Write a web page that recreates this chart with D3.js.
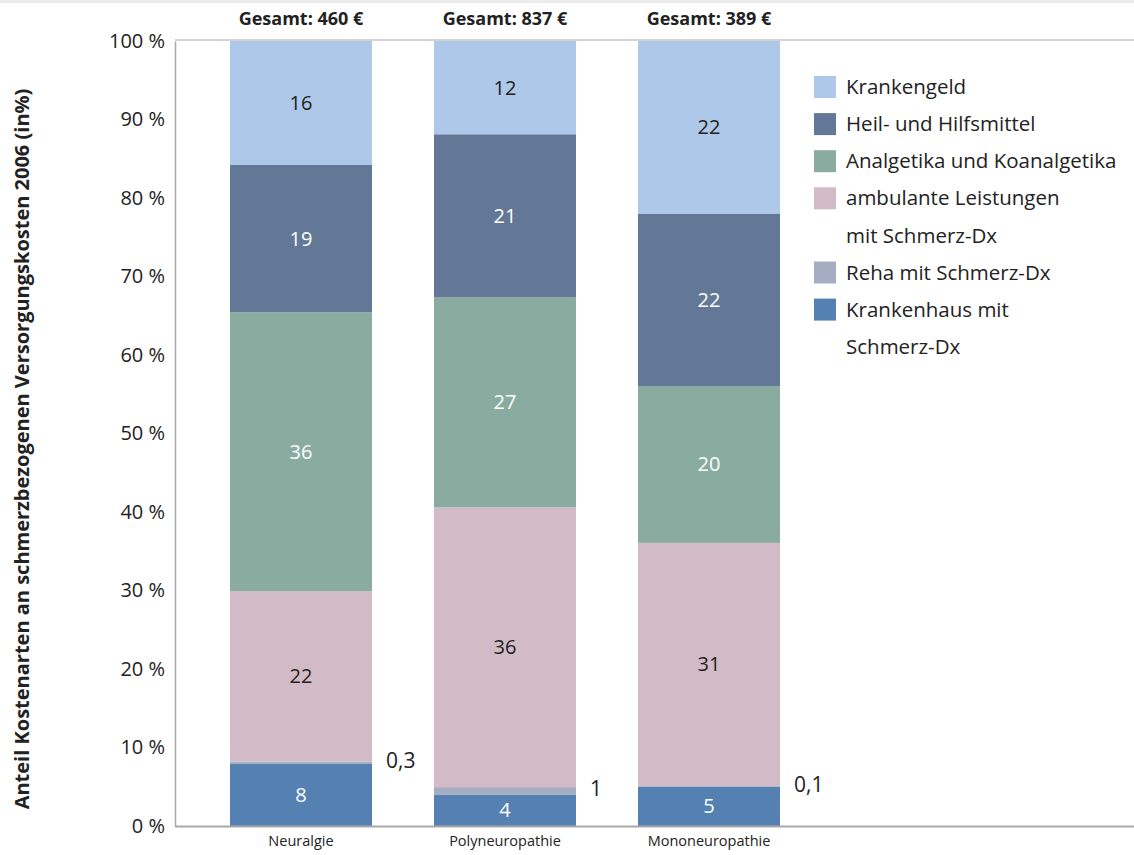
<!DOCTYPE html>
<html>
<head>
<meta charset="utf-8">
<script src="https://cdn.jsdelivr.net/npm/d3@7"></script>
<style>
  html, body { margin: 0; padding: 0; background: #fff; }
  svg { display: block; font-family: "Open Sans", "Noto Sans", sans-serif; }
</style>
</head>
<body>
<svg id="chart" width="1134" height="855"></svg>
<script>
// Kategorien (Diagnosegruppen) und Gesamtkosten je Patient
const categories = ["Neuralgie", "Polyneuropathie", "Mononeuropathie"];
const totals = ["460", "837", "389"];

// Kostenarten von unten nach oben
const seriesKeys = ["Krankenhaus", "Reha", "Ambulant", "Analgetika", "Heilmittel", "Krankengeld"];
const seriesLabels = {
  Krankengeld: ["Krankengeld"],
  Heilmittel: ["Heil- und Hilfsmittel"],
  Analgetika: ["Analgetika und Koanalgetika"],
  Ambulant: ["ambulante Leistungen", "mit Schmerz-Dx"],
  Reha: ["Reha mit Schmerz-Dx"],
  Krankenhaus: ["Krankenhaus mit", "Schmerz-Dx"]
};

// Anteile in % (wie beschriftet)
const krankenhaus = [8, 4, 5];
const reha = [0.3, 1, 0.1];
const ambulant = [22, 36, 31];
const analgetika = [36, 27, 20];
const heilmittel = [19, 21, 22];
const krankengeld = [16, 12, 22];

const yTicks = [0, 10, 20, 30, 40, 50, 60, 70, 80, 90, 100];

const colors = {
  Krankengeld: "#adc8e8",
  Heilmittel: "#637896",
  Analgetika: "#89aba0",
  Ambulant: "#d2bac6",
  Reha: "#a4adc2",
  Krankenhaus: "#5481b1"
};
const labelColors = {
  Krankengeld: "#222",
  Heilmittel: "#fff",
  Analgetika: "#fff",
  Ambulant: "#222",
  Reha: "#222",
  Krankenhaus: "#fff"
};

const rows = categories.map((c, i) => ({
  cat: c,
  Krankenhaus: krankenhaus[i],
  Reha: reha[i],
  Ambulant: ambulant[i],
  Analgetika: analgetika[i],
  Heilmittel: heilmittel[i],
  Krankengeld: krankengeld[i]
}));

const fmt = v => String(v).replace(".", ",");

const svg = d3.select("#chart");

// schmale graue Leiste am oberen Rand
svg.append("rect").attr("x", 0).attr("y", 0).attr("width", 1134).attr("height", 3).attr("fill", "#ebebeb");

const plotLeft = 175, plotRight = 1134, plotTop = 41, plotBottom = 826;

const x = d3.scaleBand().domain(categories).range([199, 811]).paddingInner(0.304).paddingOuter(0.152);
const y = d3.scaleLinear().domain([0, 1]).range([plotBottom, plotTop]);
const yPct = d3.scaleLinear().domain([0, 100]).range([plotBottom, plotTop]);

// Anteile je Säule auf 100 % normiert stapeln
const stack = d3.stack().keys(seriesKeys).offset(d3.stackOffsetExpand);
const layers = stack(rows);

// obere Rahmenlinie
svg.append("line").attr("x1", plotLeft).attr("x2", plotRight).attr("y1", plotTop - 1).attr("y2", plotTop - 1)
  .attr("stroke", "#a8a8a8").attr("stroke-width", 1);

const gL = svg.append("g");
gL.selectAll("g.layer").data(layers).join("g")
  .attr("fill", d => colors[d.key])
  .selectAll("rect").data(d => d).join("rect")
  .attr("x", d => x(d.data.cat))
  .attr("width", x.bandwidth())
  .attr("y", d => y(d[1]))
  .attr("height", d => y(d[0]) - y(d[1]));

// Werte in den Segmenten
layers.forEach(layer => {
  layer.forEach(d => {
    const v = d.data[layer.key];
    const cx = x(d.data.cat) + x.bandwidth() / 2;
    const cy = (y(d[0]) + y(d[1])) / 2;
    if (layer.key === "Reha") {
      svg.append("text")
        .attr("x", x(d.data.cat) + x.bandwidth() + 14)
        .attr("y", cy - 2)
        .attr("dy", "0.35em")
        .attr("font-size", 21)
        .attr("fill", "#222")
        .text(fmt(v));
    } else {
      svg.append("text")
        .attr("x", cx).attr("y", cy)
        .attr("dy", "0.35em")
        .attr("text-anchor", "middle")
        .attr("font-size", 20)
        .attr("fill", labelColors[layer.key])
        .text(fmt(v));
    }
  });
});

// y-Achse
const yAxis = d3.axisLeft(yPct).tickValues(yTicks).tickSize(0).tickPadding(10).tickFormat(d => d + " %");
const gy = svg.append("g").attr("transform", `translate(${plotLeft},0)`).call(yAxis);
gy.select(".domain").attr("stroke", "#a8a8a8").attr("stroke-width", 1.5);
gy.selectAll("text").attr("font-size", 20).attr("fill", "#222").attr("font-family", "Open Sans, sans-serif");

// x-Achse
const xAxis = d3.axisBottom(x).tickSize(0).tickPadding(10);
const gx = svg.append("g").attr("transform", `translate(0,${plotBottom})`).call(xAxis);
gx.select(".domain").remove();
gx.selectAll("text").attr("font-size", 14.5).attr("fill", "#222").attr("font-family", "Open Sans, sans-serif");
svg.append("line").attr("x1", plotLeft).attr("x2", plotRight).attr("y1", plotBottom + 0.5).attr("y2", plotBottom + 0.5)
  .attr("stroke", "#a8a8a8").attr("stroke-width", 2);

// Gesamtkosten über den Säulen
svg.append("g").selectAll("text").data(categories).join("text")
  .attr("x", d => x(d) + x.bandwidth() / 2)
  .attr("y", 19)
  .attr("dy", "0.35em")
  .attr("text-anchor", "middle")
  .attr("font-size", 18)
  .attr("font-weight", "bold")
  .attr("fill", "#222")
  .text((d, i) => `Gesamt: ${totals[i]} €`);

// Achsentitel
svg.append("text")
  .attr("transform", "translate(22,449) rotate(-90)")
  .attr("text-anchor", "middle")
  .attr("dy", "0.35em")
  .attr("font-size", 20)
  .attr("font-weight", "bold")
  .attr("fill", "#222")
  .text("Anteil Kostenarten an schmerzbezogenen Versorgungskosten 2006 (in%)");

// Legende
const legendOrder = ["Krankengeld", "Heilmittel", "Analgetika", "Ambulant", "Reha", "Krankenhaus"];
const rowStep = 37.1;
let ly = 87;
const lg = svg.append("g");
legendOrder.forEach(k => {
  lg.append("rect").attr("x", 814).attr("y", ly - 11).attr("width", 22).attr("height", 22).attr("fill", colors[k]);
  seriesLabels[k].forEach((t, j) => {
    lg.append("text").attr("x", 846).attr("y", ly + j * rowStep).attr("dy", "0.35em")
      .attr("font-size", 20.5).attr("fill", "#222").text(t);
  });
  ly += rowStep * seriesLabels[k].length;
});
</script>
</body>
</html>
